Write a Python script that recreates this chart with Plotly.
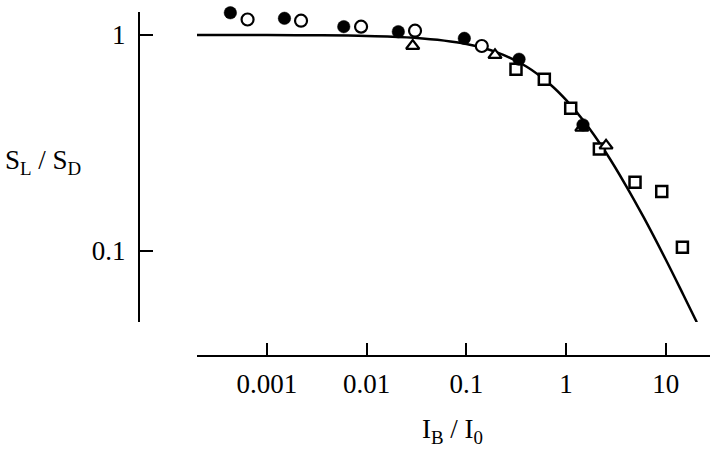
import plotly.graph_objects as go

# ---- data ----
filled_x = [0.00043, 0.0015, 0.0059, 0.0208, 0.0955, 0.338, 1.48]
filled_y = [1.268, 1.195, 1.093, 1.036, 0.965, 0.772, 0.383]

open_x = [0.00064, 0.0022, 0.0088, 0.0306, 0.143]
open_y = [1.18, 1.165, 1.093, 1.047, 0.889]

tri_x = [0.029, 0.194, 1.44, 2.52]
tri_y = [0.89, 0.808, 0.371, 0.307]

sq_x = [0.315, 0.606, 1.114, 2.16, 4.92, 9.12, 14.7]
sq_y = [0.693, 0.623, 0.457, 0.296, 0.2075, 0.188, 0.1037]

curve_x = [0.00019, 0.001, 0.003, 0.01, 0.03, 0.1, 0.2, 0.4, 0.7, 1.0, 1.5, 2.5, 4.0, 6.0, 10.0, 15.0, 20.5]
curve_y = [1.0, 0.999, 0.997, 0.99, 0.971, 0.909, 0.833, 0.714, 0.588, 0.5, 0.4, 0.286, 0.2, 0.143, 0.091, 0.0625, 0.0466]

x_tickvals = [0.001, 0.01, 0.1, 1, 10]
x_ticktext = ["0.001", "0.01", "0.1", "1", "10"]
y_tickvals = [0.1, 1]
y_ticktext = ["0.1", "1"]

W, H = 720, 450
FONT = "Liberation Serif"

fig = go.Figure()
fig.add_trace(go.Scatter(x=curve_x, y=curve_y, mode="lines", line=dict(color="black", width=2.5, shape="spline"),
                         showlegend=False, hoverinfo="skip"))
fig.add_trace(go.Scatter(x=sq_x, y=sq_y, mode="markers", cliponaxis=False, showlegend=False,
                         marker=dict(symbol="square", size=11, color="white", line=dict(color="black", width=2.5))))
fig.add_trace(go.Scatter(x=tri_x, y=tri_y, mode="markers", cliponaxis=False, showlegend=False,
                         marker=dict(symbol="triangle-up", size=11.5, color="white", line=dict(color="black", width=2.2))))
fig.add_trace(go.Scatter(x=open_x, y=open_y, mode="markers", cliponaxis=False, showlegend=False,
                         marker=dict(symbol="circle", size=12, color="white", line=dict(color="black", width=2.2))))
fig.add_trace(go.Scatter(x=filled_x, y=filled_y, mode="markers", cliponaxis=False, showlegend=False,
                         marker=dict(symbol="circle", size=12.5, color="black", line=dict(color="black", width=0.5))))

fig.update_layout(
    width=W, height=H,
    margin=dict(l=0, r=0, t=0, b=0),
    paper_bgcolor="white", plot_bgcolor="white",
    font=dict(family=FONT, size=27, color="black"),
    xaxis=dict(
        type="log", range=[-3.701, 1.444], domain=[197 / W, 710 / W],
        anchor="free", position=(H - 355.5) / H,
        showline=True, linecolor="black", linewidth=2,
        ticks="inside", ticklen=12, tickwidth=2, tickcolor="black",
        tickvals=x_tickvals, ticktext=x_ticktext, ticklabelstandoff=4,
        showgrid=False, zeroline=False, automargin=False,
        tickfont=dict(family=FONT, size=27),
    ),
    yaxis=dict(
        type="log", range=[-1.3306, 0.1066], domain=[(H - 322) / H, (H - 12) / H],
        anchor="free", position=139 / W,
        showline=True, linecolor="black", linewidth=2,
        ticks="inside", ticklen=13, tickwidth=2, tickcolor="black",
        tickvals=y_tickvals, ticktext=y_ticktext, ticklabelstandoff=7,
        showgrid=False, zeroline=False, automargin=False,
        tickfont=dict(family=FONT, size=27),
    ),
    annotations=[
        dict(text="S<sub>L</sub> / S<sub>D</sub>", xref="paper", yref="paper",
             x=3 / W, y=(H - 162) / H, xanchor="left", yanchor="middle", showarrow=False,
             font=dict(family=FONT, size=27)),
        dict(text="I<sub>B</sub> / I<sub>0</sub>", xref="paper", yref="paper",
             x=452 / W, y=(H - 450) / H, xanchor="center", yanchor="bottom", showarrow=False,
             font=dict(family=FONT, size=27)),
    ],
)

fig.write_html("out.html", config={"displayModeBar": False},
               post_script="document.body.style.margin='0';document.body.style.overflow='hidden';")
